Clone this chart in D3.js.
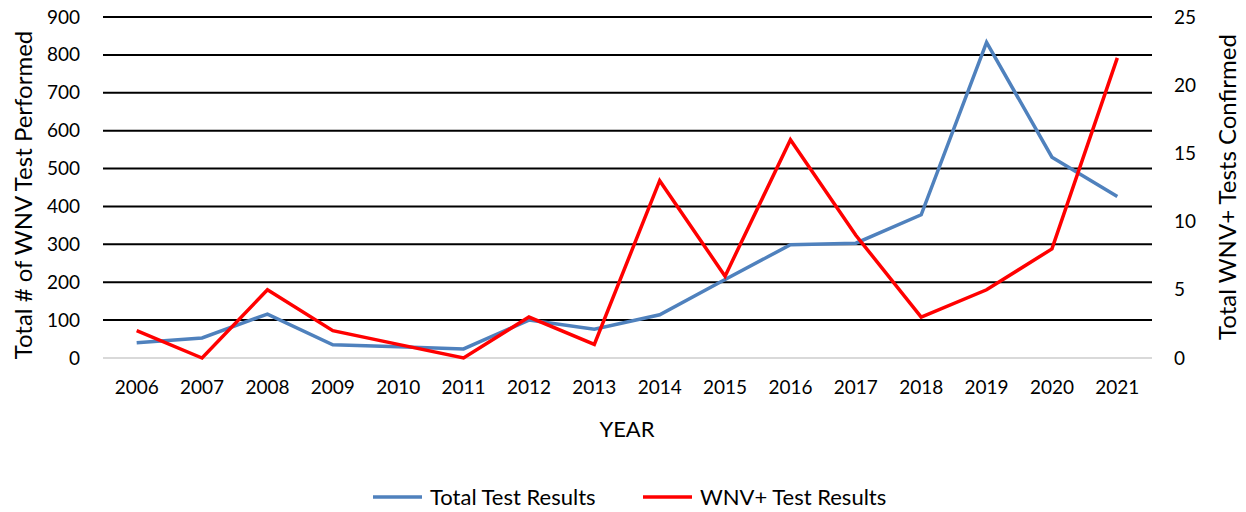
<!DOCTYPE html>
<html>
<head>
<meta charset="utf-8">
<script src="https://cdn.jsdelivr.net/npm/d3@7"></script>
<style>
  body { margin: 0; background: #fff; }
  text { font-family: Lato, "Open Sans", sans-serif; fill: #000; }
</style>
</head>
<body>
<script>
// data
var years = ["2006","2007","2008","2009","2010","2011","2012","2013","2014","2015","2016","2017","2018","2019","2020","2021"];
var totalTests = [40, 53, 116, 35, 30, 24, 100, 76, 114, 207, 299, 303, 378, 833, 530, 426];
var positiveTests = [2, 0, 5, 2, 1, 0, 3, 1, 13, 6, 16, 9, 3, 5, 8, 22];
var leftTicks = [0, 100, 200, 300, 400, 500, 600, 700, 800, 900];
var rightTicks = [0, 5, 10, 15, 20, 25];

// chart area
var margin = {top: 17, right: 96, bottom: 154, left: 104},
    width = 1246 - margin.left - margin.right,
    height = 512 - margin.top - margin.bottom;

var svg = d3.select("body").append("svg")
    .attr("width", 1246)
    .attr("height", 512);

var g = svg.append("g")
    .attr("transform", "translate(" + margin.left + "," + margin.top + ")");

var x = d3.scaleBand().domain(years).range([0, width]);
var yLeft = d3.scaleLinear().domain([0, 900]).range([height, 0]);
var yRight = d3.scaleLinear().domain([0, 25]).range([height, 0]);

// gridlines
g.selectAll(".grid")
    .data(leftTicks)
    .enter().append("line")
    .attr("x1", -1)
    .attr("x2", width + 2)
    .attr("y1", function(d) { return yLeft(d); })
    .attr("y2", function(d) { return yLeft(d); })
    .style("stroke", function(d) { return d === 0 ? "#d9d9d9" : "#000"; })
    .style("stroke-width", 2);

// left axis
var leftAxis = g.append("g")
    .call(d3.axisLeft(yLeft).tickValues(leftTicks).tickSize(0).tickPadding(24));
leftAxis.select(".domain").remove();
leftAxis.selectAll("text").style("font-size", "19px");

// right axis
var rightAxis = g.append("g")
    .attr("transform", "translate(" + width + ",0)")
    .call(d3.axisRight(yRight).tickValues(rightTicks).tickSize(0).tickPadding(24));
rightAxis.select(".domain").remove();
rightAxis.selectAll("text").style("font-size", "19px");

// bottom axis
var bottomAxis = g.append("g")
    .attr("transform", "translate(0," + height + ")")
    .call(d3.axisBottom(x).tickSize(0).tickPadding(23));
bottomAxis.select(".domain").remove();
bottomAxis.selectAll("text").style("font-size", "19px");

// lines
var lineTotal = d3.line()
    .x(function(d, i) { return x(years[i]) + x.bandwidth() / 2; })
    .y(function(d) { return yLeft(d); });

var linePos = d3.line()
    .x(function(d, i) { return x(years[i]) + x.bandwidth() / 2; })
    .y(function(d) { return yRight(d); });

g.append("path")
    .datum(totalTests)
    .attr("d", lineTotal)
    .style("fill", "none")
    .style("stroke", "#4f81bd")
    .style("stroke-width", 3.5);

g.append("path")
    .datum(positiveTests)
    .attr("d", linePos)
    .style("fill", "none")
    .style("stroke", "#ff0000")
    .style("stroke-width", 3.5);

// axis titles
svg.append("text")
    .attr("transform", "translate(32,195) rotate(-90)")
    .attr("text-anchor", "middle")
    .style("font-size", "24px")
    .text("Total # of WNV Test Performed");

svg.append("text")
    .attr("transform", "translate(1236,187) rotate(-90)")
    .attr("text-anchor", "middle")
    .style("font-size", "24px")
    .text("Total WNV+ Tests Confirmed");

svg.append("text")
    .attr("x", 627)
    .attr("y", 437)
    .attr("text-anchor", "middle")
    .style("font-size", "22px")
    .text("YEAR");

// legend
var legendItems = [
    {name: "Total Test Results", color: "#4f81bd", x: 373},
    {name: "WNV+ Test Results", color: "#ff0000", x: 643}
];
var legend = svg.selectAll(".legend")
    .data(legendItems)
    .enter().append("g")
    .attr("transform", function(d) { return "translate(" + d.x + ",497)"; });

legend.append("line")
    .attr("x1", 0).attr("x2", 49)
    .attr("y1", 0).attr("y2", 0)
    .style("stroke", function(d) { return d.color; })
    .style("stroke-width", 3.5);

legend.append("text")
    .attr("x", 57)
    .attr("y", 8)
    .style("font-size", "22px")
    .text(function(d) { return d.name; });
</script>
</body>
</html>
